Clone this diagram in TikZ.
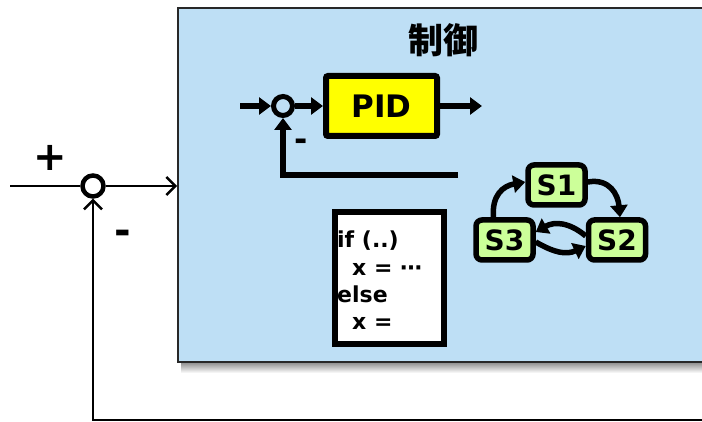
\documentclass[tikz,border=0pt]{standalone}
\usepackage{fontspec}
\setmainfont{DejaVu Sans}
\newfontfamily\cjk{Noto Sans CJK JP}
\usetikzlibrary{arrows.meta,calc}
\definecolor{ctrlblue}{RGB}{190,223,245}
\definecolor{pidyellow}{RGB}{255,255,0}
\definecolor{stgreen}{RGB}{204,255,153}
\definecolor{boxedge}{RGB}{40,40,40}
\begin{document}
\begin{tikzpicture}[x=1pt,y=-1pt,
  thinline/.style={line width=2.4pt,line cap=butt},
  thickline/.style={line width=5.5pt},
  barb/.style={-{Straight Barb[length=9pt,width=18pt,line width=2.4pt]}},
  tri/.style={-{Triangle[length=12pt,width=17pt]}},
  sumcircle/.style={circle,draw,inner sep=0pt},
  statebox/.style={draw,line width=5.5pt,fill=stgreen,rounded corners=6pt,
    minimum width=57pt,minimum height=40pt,inner sep=0pt,
    font=\bfseries\fontsize{28}{28}\selectfont},
  lbl/.style={inner sep=0pt,font=\bfseries\fontsize{40}{40}\selectfont}]
\useasboundingbox (0,0) rectangle (702,422);
% shadow of the control block
\shade[top color=black!50,bottom color=white] (181,361) rectangle (710,373);
% control block
\node (ctrl) [draw=boxedge,line width=2pt,fill=ctrlblue,anchor=north west,
  minimum width=540pt,minimum height=354pt,inner sep=0pt] at (177,7) {};
\node (title) [inner sep=0pt,font=\cjk\bfseries\fontsize{35}{35}\selectfont] at (443,40) {制御};
% outer loop
\node (sum) [sumcircle,line width=4.5pt,minimum size=21pt] at (93,186) {};
\coordinate (in) at (10,186);
\coordinate (fbR) at (710,420);
\draw[thinline] (in) -- (sum.west);
\draw[thinline,barb] (sum.east) -- (ctrl.west |- sum);
\draw[thinline,barb] (fbR) -- (fbR -| sum) -- (sum.south);
\node (plus) [lbl] at (50,158) {+};
\node (minus) [lbl] at (123,237) {-};
% inner PID loop
\node (isum) [sumcircle,line width=5pt,minimum size=19pt] at (283,106) {};
\coordinate (iin) at (240,106);
\coordinate (iout) at (482,106);
\coordinate (ifb) at (458,175);
\node (pid) [draw,line width=6pt,fill=pidyellow,rounded corners=2pt,
  minimum width=111pt,minimum height=60pt,inner sep=0pt,
  font=\bfseries\fontsize{31}{31}\selectfont] at (381.5,106) {PID};
\draw[thickline,tri] (iin) -- (isum.west);
\draw[thickline,tri] (isum.east) -- (pid.west);
\draw[thickline,tri] (pid.east) -- (iout);
\draw[thickline,tri] (ifb) -- (ifb -| isum) -- (isum.south);
\node (iminus) [inner sep=0pt,font=\bfseries\fontsize{32}{32}\selectfont] at (301,145) {-};
% code box
\node (code) [draw,line width=6pt,fill=white,minimum width=109pt,minimum height=132pt,
  inner sep=0pt] at (389.5,278) {};
\node (codetext) [anchor=north west,inner sep=0pt,align=left,
  font=\bfseries\fontsize{22}{27.3}\selectfont] at (337,231)
  {if (..)\\\hspace*{15pt}x = ⋯\\else\\\hspace*{15pt}x =};
% state machine
\node (S1) [statebox] at (556.5,185) {S1};
\node (S3) [statebox] at (504.5,240) {S3};
\node (S2) [statebox] at (617,240) {S2};
\draw[thickline,tri] ([xshift=-11pt]S3.north) to[out=95,in=190,looseness=1.2] ([yshift=3pt]S1.west);
\draw[thickline,tri] ([yshift=3pt]S1.east) to[out=10,in=95,looseness=1.2] ([xshift=3pt]S2.north);
\draw[thickline,tri] ([yshift=4pt]S2.west) to[out=140,in=30,looseness=1.1] ([yshift=8pt]S3.east);
\draw[thickline,tri] ([yshift=-2pt]S3.east) to[out=-30,in=205,looseness=1.1] ([yshift=-6pt]S2.west);
\end{tikzpicture}
\end{document}
